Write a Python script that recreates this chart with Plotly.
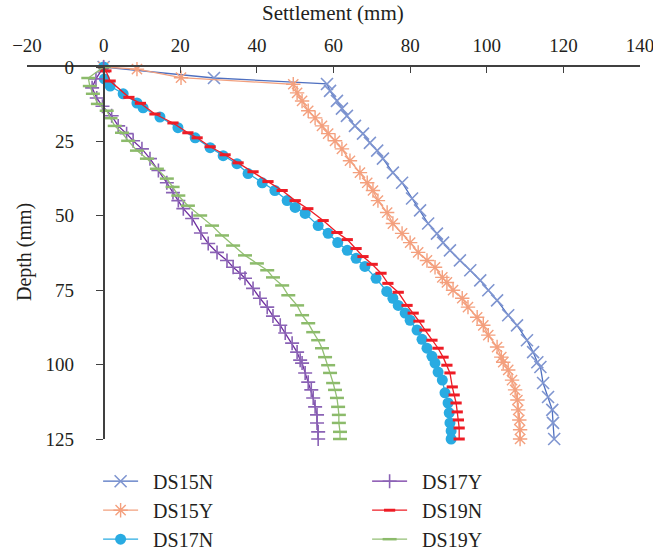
import plotly.graph_objects as go

# ---------------- data (settlement in mm vs depth in mm) ----------------
ds15n_depth = [0, 3.7, 5.7, 8, 11.4, 14, 16.4, 19.8, 22.4, 25.5, 28.1, 30.8, 35.5, 38.9, 44.2, 48.2,
               52.6, 56, 59, 61.6, 65, 68.3, 71.7, 75, 78.4, 83.4, 86.8, 91.8, 95.8, 99.2, 100.8,
               106.2, 110.9, 115.2, 119.6, 125]
ds15n_settle = [0, 28.8, 58.3, 59.1, 60.9, 62.2, 63.5, 65.6, 67.7, 69.5, 71.4, 72.9, 75.5, 77.9, 80.5, 82.6,
                84.7, 87, 88.6, 90.4, 93, 95.7, 98.3, 100.4, 102.7, 105.6, 107.9, 110.5, 112.1, 113.2, 114,
                114.7, 116, 117.1, 117.3, 117.6]

ds15y_depth = [0, 0.7, 3.6, 5.8, 8.7, 11.4, 14.7, 17.1, 19.8, 22.4, 24.8, 27.5, 31.5, 35.5, 38.9, 41.5,
               44.9, 48.9, 52.6, 55.9, 59, 62.3, 65, 67.3, 70.7, 72.4, 75, 77.7, 80.7, 84.1, 86.8, 90.1,
               94.1, 97.5, 99.2, 101.8, 105.2, 108.5, 111.9, 115.2, 118.6, 121.9, 125]
ds15y_settle = [0, 8.7, 20.2, 49.5, 50.5, 51.8, 53.4, 55.2, 57, 58.6, 60.4, 62.2, 64.3, 66.9, 68.8, 70.3,
                71.6, 74, 75.5, 77.9, 80, 82.1, 84.4, 86.5, 88.4, 89.6, 91.2, 93.6, 95.1, 97.5, 99.1, 100.4,
                102.7, 103.8, 104.3, 105.6, 106.6, 107.4, 108, 108.2, 108.5, 108.7, 108.7]

ds17n_depth = [0, 4, 6.4, 9, 12.1, 13.7, 16.8, 20.4, 23.8, 27.1, 29.8, 32.5, 35.8, 38.9, 41.5, 44.9,
               47.2, 49.2, 53.3, 55.9, 59, 61.6, 64.3, 67, 71, 75.4, 77.7, 80.1, 82.7, 85.1, 88.4, 91.5,
               94.5, 97.2, 99.5, 102.5, 105.2, 109.5, 112.9, 116.2, 119.6, 122.3, 125]
ds17n_settle = [0, 0.2, 1.7, 5.1, 8.7, 10.3, 14.7, 19.4, 23.9, 27.8, 31.2, 34.8, 37.7, 41.4, 44.7, 47.9,
                50, 52.6, 56, 58.6, 61.1, 63.6, 65.9, 68.2, 71.1, 73.9, 75.5, 76.9, 78.7, 80, 81.8, 83.1,
                84.4, 85.7, 86.5, 87.3, 88.4, 89.1, 89.9, 90.2, 90.4, 90.7, 90.7]

ds17y_depth = [0, 4, 7, 10.4, 13.2, 16.4, 19.8, 22.4, 24.8, 27.5, 30.8, 34.8, 38.9, 42.2, 44.9, 47.6,
               50.9, 55.8, 59.3, 62.3, 65, 67.3, 69.3, 71, 74.4, 77.7, 80.7, 83.7, 86.8, 89.4, 92.8,
               95.8, 98.5, 99.5, 102.8, 105.9, 108.5, 111.2, 114.2, 116.9, 119.6, 122.6, 125]
ds17y_settle = [0, -2, -3, -1.8, -0.3, 2.1, 3.8, 6, 7.7, 10, 12.1, 14.3, 16.5, 18.1, 19.5, 20.8,
                23.1, 25.4, 27.3, 29.6, 32.2, 33.8, 35.6, 36.9, 39, 40.8, 42.7, 44.2, 46.1, 47.4, 49.2,
                50.5, 51.3, 51.8, 52.6, 53.4, 54.2, 54.7, 55.2, 55.7, 55.7, 56, 56]

ds19n_depth = [0, 1.3, 4.7, 10.2, 12.2, 15.8, 18.8, 22.1, 23.8, 26.8, 29.5, 32.2, 35.2, 38.5, 41.5, 44.9,
               47.6, 51.6, 55.6, 58, 61, 63.7, 66.3, 69.3, 72.7, 75.7, 80.1, 82.7, 85.4, 88.4, 91.8,
               94.5, 97.5, 100.2, 102.8, 107.5, 110.2, 112.9, 115.9, 118.6, 121.3, 125]
ds19n_settle = [0, 0.6, 1.7, 6.6, 9.6, 13.4, 18.1, 22, 24.4, 27.8, 31.7, 35.1, 39, 42.9, 46.6, 50,
                53.3, 57.3, 60.9, 63.6, 65.9, 67.7, 70.1, 72.4, 74.2, 76.9, 79.2, 80.8, 82.3, 83.9, 85.7,
                87.3, 88.6, 89.6, 90.4, 91, 91.5, 92, 92.3, 92.6, 92.8, 92.8]

ds19y_depth = [0, 3.7, 6.4, 9, 12.4, 14.7, 17.2, 19.8, 22.1, 24.8, 28.1, 30.8, 34.2, 37.5, 40.3, 43.2,
               46.6, 49.9, 53.3, 56.6, 60, 63.3, 66, 68.3, 70.7, 73.4, 76.7, 80.1, 83.4, 86.1, 89.1,
               91.8, 94.5, 97.5, 100.2, 102.8, 106.2, 108.5, 111.2, 114.2, 116.9, 119.6, 122.6, 125]
ds19y_settle = [0, -4, -3.6, -2.8, -1.5, 0.8, 1.8, 2.9, 4.8, 6.4, 8.7, 11.3, 13.9, 16.5, 18, 19.5,
                22, 25.2, 28.3, 30.9, 33.8, 36.9, 40, 42.7, 44.2, 46.6, 48.2, 50.5, 51.8, 53.4, 54.7,
                56, 57, 57.8, 58.6, 59.1, 59.9, 60.4, 60.9, 61.2, 61.4, 61.4, 61.7, 61.7]

x_ticks = [-20, 0, 20, 40, 60, 80, 100, 120, 140]
y_ticks = [0, 25, 50, 75, 100, 125]

FONT = "Liberation Serif, Times New Roman, serif"
AXIS_COLOR = "#404040"
PAD = "\u00a0\u00a0"

series = [
    # name, x, y, line color, marker color, symbol, size, marker line width, legend rank
    ("DS15N", ds15n_settle, ds15n_depth, "#4F70C0", "#7F95D0", "x-thin-open", 12, 1.6, 1),
    ("DS15Y", ds15y_settle, ds15y_depth, "#F2A07E", "#F4A07E", "asterisk-open", 12, 1.4, 3),
    ("DS17N", ds17n_settle, ds17n_depth, "#29ABE2", "#29ABE2", "circle", 11, 0, 5),
    ("DS17Y", ds17y_settle, ds17y_depth, "#7030A0", "#8A62B5", "cross-thin-open", 10, 1.6, 2),
    ("DS19N", ds19n_settle, ds19n_depth, "#EE1C25", "#EE1C25", "line-ew-open", 8, 3, 4),
    ("DS19Y", ds19y_settle, ds19y_depth, "#93BF74", "#8CBB6B", "line-ew-open", 10, 2.5, 6),
]

fig = go.Figure()
for name, xs, ys, lc, mc, sym, size, mlw, rank in series:
    marker = dict(symbol=sym, size=size, color=mc)
    if mlw:
        marker["line"] = dict(color=mc, width=mlw)
    fig.add_trace(go.Scatter(
        x=xs, y=ys, name=PAD + name, mode="lines+markers",
        line=dict(color=lc, width=1.3),
        marker=marker, cliponaxis=False, legendrank=rank,
    ))

fig.update_layout(
    template="none",
    width=653, height=552, autosize=False,
    margin=dict(l=27, r=13, t=67, b=113, autoexpand=False),
    paper_bgcolor="white", plot_bgcolor="white",
    font=dict(family=FONT, size=19, color="#231F20"),
    showlegend=True,
    legend=dict(
        orientation="h", x=0.116, y=-0.061, xanchor="left", yanchor="top",
        entrywidth=219, itemwidth=35, font=dict(size=20, family=FONT),
        bgcolor="rgba(0,0,0,0)", tracegroupgap=0,
    ),
    xaxis=dict(
        side="top", range=[-20, 140], tickvals=x_ticks, ticks="inside", ticklen=6,
        tickwidth=1.3, tickcolor=AXIS_COLOR, showline=True, linecolor=AXIS_COLOR, linewidth=1.6,
        showgrid=False, zeroline=False, tickfont=dict(size=19, family=FONT),
        automargin=False, ticklabelstandoff=6, ticklabeloverflow="allow",
    ),
    yaxis=dict(
        range=[125, 0], tickvals=y_ticks, ticks="outside", ticklen=7, tickwidth=1.3,
        tickcolor=AXIS_COLOR, showline=True, linecolor=AXIS_COLOR, linewidth=1.6,
        showgrid=False, zeroline=False, anchor="free", position=0.125,
        ticklabelstandoff=18, tickfont=dict(size=19, family=FONT), automargin=False,
        ticklabeloverflow="allow",
    ),
    annotations=[
        dict(text="Settlement (mm)", xref="paper", yref="paper", x=0.499, y=1.146,
             xanchor="center", yanchor="middle", showarrow=False,
             font=dict(size=21, family=FONT)),
        dict(text="Depth (mm)", xref="paper", yref="paper", x=-0.003, y=0.503,
             xanchor="center", yanchor="middle", textangle=-90, showarrow=False,
             font=dict(size=20, family=FONT)),
    ],
)

fig.write_html("out.html")
